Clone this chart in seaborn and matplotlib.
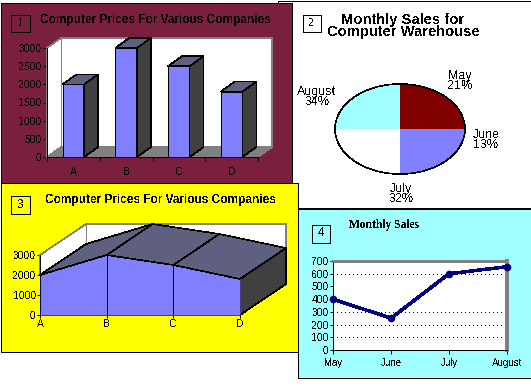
import matplotlib
matplotlib.use('Agg')
import matplotlib.pyplot as plt
import seaborn as sns
from matplotlib.patches import Ellipse, Polygon, Rectangle

# chart values
companies = ['A', 'B', 'C', 'D']
prices = [2000, 3000, 2500, 1800]
bar_ticks = [0, 500, 1000, 1500, 2000, 2500, 3000]
area_ticks = [0, 1000, 2000, 3000]
months = ['May', 'June', 'July', 'August']
sales = [400, 250, 600, 655]
sales_ticks = [0, 100, 200, 300, 400, 500, 600, 700]
grid_levels = [100, 200, 300, 600]
# the pie is drawn in four equal quarters, whatever its labels say
pie_parts = [25, 25, 25, 25]
pie_labels = ['May\n21%', 'June\n13%', 'July\n32%', 'August\n34%']

W, H = 531, 390
BLUE = '#8080FF'
TOP = '#5F5F80'
SIDE = '#404040'
GRAY = '#808080'
FONT = 'Liberation Sans'
LW = 0.72  # one pixel at 100 dpi
THIN = 0.45  # aliased slanted lines come out too fat at LW

sns.set_style('white')
plt.rcParams['font.family'] = FONT
plt.rcParams['text.color'] = 'black'
plt.rcParams['xtick.color'] = 'black'
plt.rcParams['ytick.color'] = 'black'
plt.rcParams['text.antialiased'] = False
plt.rcParams['patch.antialiased'] = False
plt.rcParams['lines.antialiased'] = False
plt.rcParams['axes.linewidth'] = LW

fig = plt.figure(figsize=(W / 100, H / 100), dpi=100, facecolor='white')


def px_axes(x0, y0, x1, y1, zorder=2):
    ax = fig.add_axes([x0 / W, 1 - y1 / H, (x1 - x0) / W, (y1 - y0) / H],
                      zorder=zorder)
    ax.patch.set_visible(False)
    return ax


# background layer with the four overlapping panels
bg = fig.add_axes([0, 0, 1, 1], zorder=0)
bg.set_xlim(0, W)
bg.set_ylim(H, 0)
bg.axis('off')
panels = [(277.5, 0.5, 255, 207.5, 'white'),
          (297.5, 208.5, 240, 169.5, '#A0FFFF'),
          (0.5, 2.5, 291, 180, '#7B1F3E'),
          (0.5, 182.5, 297, 169, '#FFFF00')]
for x, y, w, h, colour in panels:
    bg.add_patch(Rectangle((x, y), w, h, fc=colour, ec='black', lw=LW))

boxes = [(10.5, 14.5, 19, 17, '1', 'Liberation Serif'),
         (302.5, 14.5, 18, 17, '2', 'Liberation Serif'),
         (10.5, 195.5, 19, 18, '3', FONT),
         (311.5, 224.5, 18, 18, '4', FONT)]
for x, y, w, h, digit, family in boxes:
    bg.add_patch(Rectangle((x, y), w, h, fc='none', ec='black', lw=LW))
    bg.text(x + w / 2, y + h / 2, digit, ha='center', va='center',
            fontsize=8.5, family=family)

bg.text(155, 20, 'Computer Prices For Various Companies', ha='center',
        va='center', fontsize=8.6, fontweight='bold')
bg.text(160, 199.5, 'Computer Prices For Various Companies', ha='center',
        va='center', fontsize=8.6, fontweight='bold')
bg.text(403, 26, 'Monthly Sales for\nComputer Warehouse', ha='center',
        va='center', fontsize=10.6, fontweight='bold', linespacing=0.85)
bg.text(384, 225, 'Monthly Sales', ha='center', va='center', fontsize=8.3,
        fontweight='bold', family='Liberation Serif')

# chart 1: bars with a fake 3D depth
ax1 = px_axes(47, 48, 258, 157)
sns.barplot(x=companies, y=prices, color=BLUE, saturation=1, width=0.41,
            edgecolor='black', linewidth=LW, ax=ax1, zorder=3)
ax1.set_xlim(-0.5, 3.5)
ax1.set_ylim(0, 3000)
dx = 14 / (211 / 4)
dy = 10 / 109 * 3000
ax1.add_patch(Polygon([(-0.5, 0), (-0.5, 3000), (-0.5 + dx, 3000 + dy),
                       (3.5 + dx, 3000 + dy), (3.5 + dx, dy), (-0.5 + dx, dy)],
                      fc='white', ec=GRAY, lw=THIN, clip_on=False, zorder=1))
ax1.plot([-0.5 + dx, -0.5 + dx], [dy, 3000 + dy], color=GRAY, lw=LW,
         clip_on=False, zorder=1)
ax1.add_patch(Polygon([(-0.5, 0), (3.5, 0), (3.5 + dx, dy), (-0.5 + dx, dy)],
                      fc=GRAY, ec=GRAY, lw=THIN, clip_on=False, zorder=2))
for i, price in enumerate(prices):
    left, right = i - 0.205, i + 0.205
    ax1.add_patch(Polygon([(left, price), (right, price),
                           (right + dx, price + dy), (left + dx, price + dy)],
                          fc=TOP, ec='black', lw=THIN, clip_on=False, zorder=4))
    ax1.add_patch(Polygon([(right, 0), (right, price),
                           (right + dx, price + dy), (right + dx, dy)],
                          fc=SIDE, ec='black', lw=THIN, clip_on=False, zorder=4))
ax1.set_yticks(bar_ticks)
ax1.set_xticks(range(4))
ax1.set_xticklabels(companies)
ax1.set_xticks([-0.5, 0.5, 1.5, 2.5, 3.5], minor=True)
ax1.tick_params(axis='x', which='major', length=0, pad=7, labelsize=7.5)
ax1.tick_params(axis='x', which='minor', length=3, width=LW, color='black',
                bottom=True)
ax1.tick_params(axis='y', length=3, width=LW, color='black', left=True,
                pad=1, labelsize=7.5)
sns.despine(ax=ax1, top=True, right=True)
ax1.spines['left'].set_color('black')
ax1.spines['bottom'].set_color('black')
ax1.set_xlabel('')
ax1.set_ylabel('')

# chart 2: pie squeezed into an ellipse
ax2 = px_axes(335, 84, 465, 174)
ax2.pie(pie_parts, colors=['#800000', BLUE, 'white', '#A0FFFF'], startangle=90,
        counterclock=False, radius=1, wedgeprops={'linewidth': 0})
ax2.set_aspect('auto')
ax2.set_xlim(-1, 1)
ax2.set_ylim(-1, 1)
ax2.add_patch(Ellipse((0, 0), 2, 2, fc='none', ec='black', lw=THIN,
                      clip_on=False))
label_spots = [(460, 81), (486, 140), (401, 194), (317, 97)]
for (x, y), label in zip(label_spots, pie_labels):
    bg.text(x, y, label, ha='center', va='center', fontsize=9,
            linespacing=0.85)

# chart 3: area with a fake 3D depth
ax3 = px_axes(40, 255, 240, 315)
ax3.set_xlim(0, 3)
ax3.set_ylim(0, 3000)
dx3 = 46 / (200 / 3)
dy3 = 31 / 60 * 3000
positions = list(range(4))
ax3.add_patch(Polygon([(0, 2000), (0, 3000), (dx3, 3000 + dy3),
                       (3 + dx3, 3000 + dy3), (3 + dx3, dy3), (dx3, dy3)],
                      fc='white', ec=GRAY, lw=THIN, clip_on=False, zorder=1))
ax3.plot([dx3, dx3], [dy3, 3000 + dy3], color=GRAY, lw=LW, clip_on=False,
         zorder=1)
for i in range(3):
    ax3.add_patch(Polygon([(i, prices[i]), (i + 1, prices[i + 1]),
                           (i + 1 + dx3, prices[i + 1] + dy3),
                           (i + dx3, prices[i] + dy3)],
                          fc=TOP, ec='black', lw=THIN, clip_on=False, zorder=2))
ax3.add_patch(Polygon([(3, 0), (3, prices[3]), (3 + dx3, prices[3] + dy3),
                       (3 + dx3, dy3)],
                      fc=SIDE, ec='black', lw=THIN, clip_on=False, zorder=2))
ax3.fill_between(positions, prices, 0, color=BLUE, lw=0, zorder=3)
sns.lineplot(x=positions, y=prices, color='black', lw=THIN, ax=ax3, zorder=4)
ax3.vlines(positions, 0, prices, color='black', lw=LW, zorder=4)
ax3.set_xticks(positions)
ax3.set_xticklabels(companies)
ax3.set_yticks(area_ticks)
ax3.tick_params(axis='x', length=2, width=LW, color='black', bottom=True,
                pad=1, labelsize=7.5)
ax3.tick_params(axis='y', length=2, width=LW, color='black', left=True,
                pad=1, labelsize=7.5)
sns.despine(ax=ax3, top=True, right=True)
ax3.spines['left'].set_color('black')
ax3.spines['bottom'].set_color('black')

# chart 4: plain line chart
ax4 = px_axes(333, 261, 507, 350)
ax4.patch.set_visible(True)
ax4.patch.set_facecolor('white')
sns.lineplot(x=months, y=sales, color='#000080', lw=1.8, marker='o',
             markersize=5.5, markeredgewidth=0, clip_on=False, ax=ax4, zorder=4)
ax4.set_xlim(0, 3)
ax4.set_ylim(0, 700)
ax4.hlines(grid_levels, 0, 3, color='black', lw=LW, linestyles=(0, (1, 3)),
           zorder=2)
ax4.set_yticks(sales_ticks)
ax4.tick_params(axis='x', length=3, width=LW, color='black', bottom=True,
                pad=3, labelsize=7)
ax4.tick_params(axis='y', length=2, width=LW, color='black', left=True,
                pad=1, labelsize=7.5)
ax4.spines['left'].set_color('black')
ax4.spines['bottom'].set_color('black')
ax4.spines['top'].set(color=GRAY, linewidth=2)
ax4.spines['right'].set(color=GRAY, linewidth=1.5)
ax4.set_xlabel('')
ax4.set_ylabel('')

fig.savefig('out.png', dpi=100)
